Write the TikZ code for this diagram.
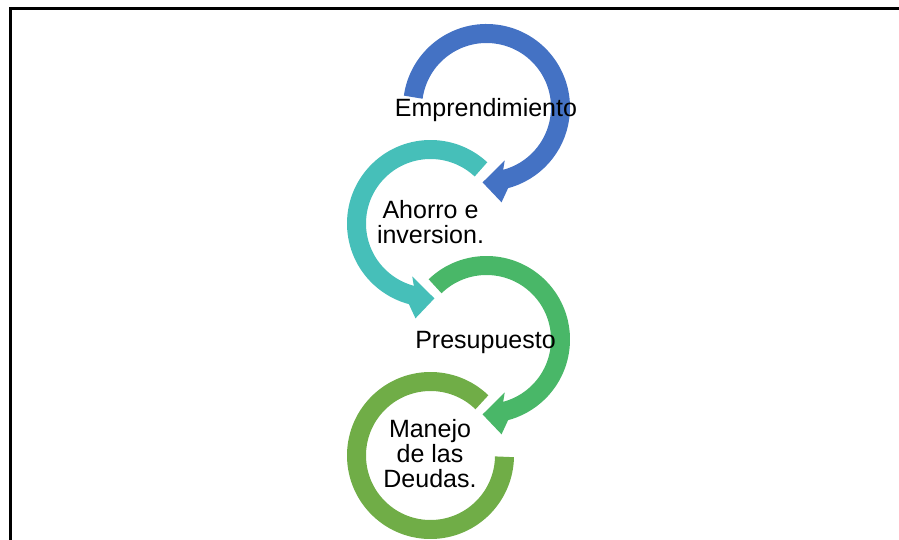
\documentclass[tikz,border=0pt]{standalone}
\usepackage{fontspec}
\setmainfont{Liberation Sans}
\usepackage{tikz}
\usetikzlibrary{calc, positioning}
\definecolor{ringblue}{RGB}{68,114,196}
\definecolor{ringteal}{RGB}{70,191,185}
\definecolor{ringgreen}{RGB}{73,183,104}
\definecolor{ringolive}{RGB}{112,173,71}
\tikzset{
    ring/.style = {line width=19pt}, % thickness of each circular arrow
    label/.style = {font=\fontsize{25}{25}\selectfont, align=center, inner sep=0pt}
}
\begin{document}
\begin{tikzpicture}[x=1pt, y=1pt]

        \useasboundingbox (0,0) rectangle (899,-540);

        %frame

        \draw[line width=3pt] (10.5,-540) -- (10.5,-8.5) -- (899,-8.5);

        %centres of the rings

        \coordinate (c-emp) at (486.5,-107.5);
        \coordinate (c-aho) at (430.5,-223.5);
        \coordinate (c-pre) at (486.5,-339.5);
        \coordinate (c-deu) at (430.5,-455.5);

        %rings

        \draw[ring, ringblue] ($(c-emp)+(172:74pt)$) arc[start angle=172, end angle=-76, radius=74pt];
        \fill[ringblue] ($(c-emp)+(-75:64.5pt)$) -- ($(c-emp)+(-71:56pt)$) -- ($(c-emp)+(-93:75pt)$)
            -- ($(c-emp)+(-81:96pt)$) -- ($(c-emp)+(-75:83.5pt)$) -- cycle;

        \draw[ring, ringteal] ($(c-aho)+(47:74pt)$) arc[start angle=47, end angle=256, radius=74pt];
        \fill[ringteal] ($(c-aho)+(-105:64.5pt)$) -- ($(c-aho)+(-109:56pt)$) -- ($(c-aho)+(-87:75pt)$)
            -- ($(c-aho)+(-99:96pt)$) -- ($(c-aho)+(-105:83.5pt)$) -- cycle;

        \draw[ring, ringgreen] ($(c-pre)+(134:74pt)$) arc[start angle=134, end angle=-76, radius=74pt];
        \fill[ringgreen] ($(c-pre)+(-75:64.5pt)$) -- ($(c-pre)+(-71:56pt)$) -- ($(c-pre)+(-93:75pt)$)
            -- ($(c-pre)+(-81:96pt)$) -- ($(c-pre)+(-75:83.5pt)$) -- cycle;

        \draw[ring, ringolive] ($(c-deu)+(46:74pt)$) arc[start angle=46, end angle=359, radius=74pt];

        %labels

        \node(emprend)[label, anchor=base] at (486,-116.5) {Emprendimiento};
        \node(ahorro)[label] at (430.5,-221.7) {Ahorro e\\inversion.};
        \node(presup)[label, anchor=base] at (485.5,-348.5) {Presupuesto};
        \node(deudas)[label] at (430,-454) {Manejo\\de las\\Deudas.};

\end{tikzpicture}
\end{document}
